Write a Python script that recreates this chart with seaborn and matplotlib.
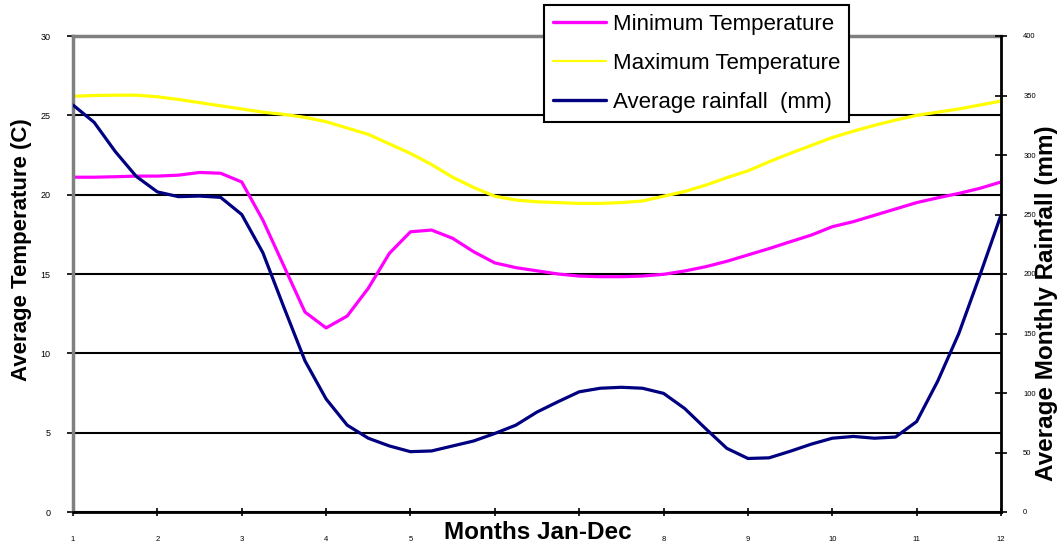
import matplotlib
matplotlib.use("Agg")
import matplotlib.pyplot as plt
from matplotlib.lines import Line2D
import seaborn as sns

# ------------------------------------------------------------
# Data (quarter-month steps)
# ------------------------------------------------------------
months = [1, 1.25, 1.5, 1.75, 2, 2.25, 2.5, 2.75, 3, 3.25, 3.5, 3.75,
          4, 4.25, 4.5, 4.75, 5, 5.25, 5.5, 5.75, 6, 6.25, 6.5, 6.75,
          7, 7.25, 7.5, 7.75, 8, 8.25, 8.5, 8.75, 9, 9.25, 9.5, 9.75,
          10, 10.25, 10.5, 10.75, 11, 11.25, 11.5, 11.75, 12]

min_temp = [21.1, 21.1, 21.13, 21.17, 21.17, 21.23, 21.4, 21.35, 20.8, 18.4, 15.5, 12.6,
            11.6, 12.35, 14.1, 16.3, 17.66, 17.77, 17.25, 16.4, 15.7, 15.4, 15.2, 15.0,
            14.87, 14.83, 14.83, 14.87, 14.98, 15.19, 15.46, 15.8, 16.2, 16.6, 17.03, 17.45,
            17.98, 18.3, 18.7, 19.1, 19.5, 19.8, 20.08, 20.4, 20.8]

max_temp = [26.2, 26.25, 26.27, 26.27, 26.17, 26.0, 25.8, 25.6, 25.4, 25.2, 25.06, 24.87,
            24.6, 24.2, 23.8, 23.2, 22.6, 21.9, 21.1, 20.45, 19.9, 19.66, 19.55, 19.5,
            19.45, 19.45, 19.5, 19.6, 19.9, 20.2, 20.6, 21.07, 21.5, 22.07, 22.6, 23.1,
            23.6, 24.0, 24.37, 24.7, 25.0, 25.2, 25.4, 25.65, 25.9]

rainfall = [342, 327.5, 303, 282, 269, 265, 265.5, 264.4, 250, 218, 172, 127,
            95, 73, 62, 55.5, 50.7, 51.3, 55.5, 59.7, 66, 73, 84, 92.7,
            101, 104, 104.8, 104, 99.7, 87, 70, 53.5, 45, 45.5, 51, 57,
            62, 63.5, 62, 63, 76, 110, 150, 199, 249.6]

month_ticks = list(range(1, 13))
# 6 and 7 sit under the axis title in the reference
month_tick_labels = ["1", "2", "3", "4", "5", "", "", "8", "9", "10", "11", "12"]
temp_ticks = [0, 5, 10, 15, 20, 25, 30]
rain_ticks = [0, 50, 100, 150, 200, 250, 300, 350, 400]

series_labels = ["Minimum Temperature", "Maximum Temperature", "Average rainfall  (mm)"]

MAGENTA = "#FF00FF"
YELLOW = "#FFFF00"
NAVY = "#000080"

# ------------------------------------------------------------
# Style
# ------------------------------------------------------------
sns.set_theme(style="white")
plt.rcParams["font.family"] = ["Liberation Sans", "DejaVu Sans"]
plt.rcParams["text.color"] = "black"
plt.rcParams["axes.labelcolor"] = "black"
plt.rcParams["xtick.color"] = "black"
plt.rcParams["ytick.color"] = "black"

fig = plt.figure(figsize=(10.64, 5.45), dpi=100)
ax = fig.add_axes([73 / 1064, 1 - 512 / 545, 928 / 1064, 476 / 545])
ax2 = ax.twinx()

sns.lineplot(x=months, y=min_temp, ax=ax, color=MAGENTA, lw=2.3, legend=False)
sns.lineplot(x=months, y=max_temp, ax=ax, color=YELLOW, lw=2.3, legend=False)
sns.lineplot(x=months, y=rainfall, ax=ax2, color=NAVY, lw=2.3, legend=False)

ax.set_xlim(1, 12)
ax.set_ylim(0, 30)
ax2.set_ylim(0, 400)

ax.set_xticks(month_ticks)
ax.set_xticklabels(month_tick_labels)
ax.set_yticks(temp_ticks)
ax2.set_yticks(rain_ticks)
ax.set_xlabel("")
ax.set_ylabel("")
ax2.set_ylabel("")

ax.yaxis.grid(True, color="black", lw=1.5)
ax.xaxis.grid(False)
ax2.grid(False)

# spines
ax.spines["left"].set_color("#808080")
ax.spines["left"].set_linewidth(2.5)
ax.spines["top"].set_color("#808080")
ax.spines["top"].set_linewidth(2.5)
ax.spines["bottom"].set_color("black")
ax.spines["bottom"].set_linewidth(2)
ax.spines["right"].set_visible(False)
for s in ["left", "top", "bottom"]:
    ax2.spines[s].set_visible(False)
ax2.spines["right"].set_color("black")
ax2.spines["right"].set_linewidth(2)

# ticks
ax.tick_params(axis="y", left=True, direction="out", length=4, width=1.2,
               color="black", labelsize=6.5, pad=12, labelcolor="black")
ax.tick_params(axis="x", bottom=True, direction="inout", length=6, width=1.2,
               color="black", labelsize=5.5, pad=14, labelcolor="black")
ax2.tick_params(axis="y", right=True, direction="inout", length=8, width=1.2,
                color="black", labelsize=5.5, pad=12, labelcolor="black")

# axis titles
fig.text(22 / 1064, 1 - 250 / 545, "Average Temperature (C)", rotation=90,
         ha="center", va="center", fontsize=16, fontweight="bold", color="black")
fig.text(1047 / 1064, 1 - 303 / 545, "Average Monthly Rainfall (mm)", rotation=90,
         ha="center", va="center", fontsize=17.5, fontweight="bold", color="black")
fig.text(538 / 1064, 1 - 544 / 545, "Months Jan-Dec",
         ha="center", va="bottom", fontsize=17.5, fontweight="bold", color="black")

# legend
handles = [
    Line2D([], [], color=MAGENTA, lw=2.4),
    Line2D([], [], color=YELLOW, lw=1.6),
    Line2D([], [], color=NAVY, lw=2.4),
]
leg = fig.legend(handles, series_labels, loc="lower left",
                 bbox_to_anchor=(544 / 1064, 1 - 122 / 545), borderaxespad=0,
                 fontsize=16, frameon=True, fancybox=False, framealpha=1,
                 edgecolor="black", labelspacing=0.82, handlelength=2.4,
                 handletextpad=0.3, borderpad=0.4)
leg.get_frame().set_linewidth(1.5)
for t in leg.get_texts():
    t.set_color("black")

fig.savefig("out.png", dpi=100)
